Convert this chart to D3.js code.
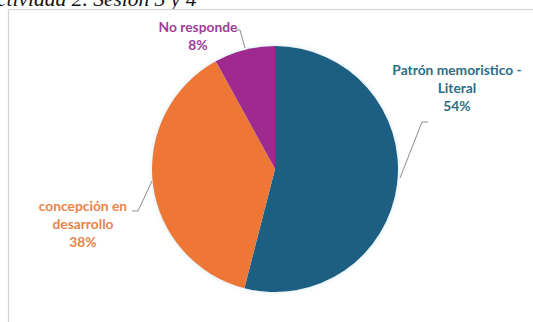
<!DOCTYPE html>
<html>
<head>
<meta charset="utf-8">
<script src="https://cdn.jsdelivr.net/npm/d3@7"></script>
<style>
  html, body { margin: 0; padding: 0; background: #fff; overflow: hidden; }
  svg { display: block; }
</style>
</head>
<body>
<svg id="chart" width="533" height="322"></svg>
<script>
// Pie data: one slice per answer category, clockwise from 12 o'clock
const categories = ["Patrón memoristico - Literal", "concepción en desarrollo", "No responde"];
const values = [54, 38, 8];
const labelLines = [["Patrón memoristico -", "Literal"], ["concepción en", "desarrollo"], ["No responde"]];
const percentLabels = ["54%", "38%", "8%"];
const sliceColors = ["#1b5f82", "#ee7734", "#9e2a90"];
const labelColors = ["#2b6d88", "#e9834a", "#a03c97"];

const svg = d3.select("#chart");

// Heading above the chart box
svg.append("text")
  .attr("x", -3).attr("y", 6)
  .attr("font-family", "Liberation Serif, Times New Roman, serif")
  .attr("font-style", "italic")
  .attr("font-size", 21.5)
  .attr("fill", "#111")
  .text("ctividad 2. Sesión 3 y 4");

// Chart area frame
svg.append("rect")
  .attr("x", 8.5).attr("y", 9.5)
  .attr("width", 540).attr("height", 330)
  .attr("fill", "#fff")
  .attr("stroke", "#d4d4d4").attr("stroke-width", 1.2);

// Soft shadow around the pie
const defs = svg.append("defs");
const f = defs.append("filter").attr("id", "soft").attr("x", "-10%").attr("y", "-10%").attr("width", "120%").attr("height", "120%");
f.append("feGaussianBlur").attr("in", "SourceAlpha").attr("stdDeviation", 2).attr("result", "b");
f.append("feFlood").attr("flood-color", "#9fd0e0").attr("flood-opacity", 0.5);
f.append("feComposite").attr("in2", "b").attr("operator", "in").attr("result", "s");
const m = f.append("feMerge");
m.append("feMergeNode").attr("in", "s");
m.append("feMergeNode").attr("in", "SourceGraphic");

const cx = 275, cy = 169, r = 123;
const pie = d3.pie().sort(null).value(d => d)(values);
const arc = d3.arc().innerRadius(0).outerRadius(r);

svg.append("g")
  .attr("transform", `translate(${cx},${cy})`)
  .attr("filter", "url(#soft)")
  .selectAll("path")
  .data(pie)
  .join("path")
  .attr("d", arc)
  .attr("fill", (d, i) => sliceColors[i]);

// Label anchor positions (center of text block) and leader lines
const labelPos = [[457, 70], [83, 206], [198, 27]];
const leaders = [
  [[428, 122], [422, 122], [400, 178]],
  [[132, 211], [138, 211], [152, 181]],
  [[236, 30], [240, 30], [245, 48]]
];

const line = d3.line();
svg.append("g").selectAll("path")
  .data(leaders)
  .join("path")
  .attr("d", d => line(d))
  .attr("fill", "none")
  .attr("stroke", "#8c8c8c")
  .attr("stroke-width", 1);

const lh = 18;
categories.forEach((c, i) => {
  const lines = labelLines[i].concat([percentLabels[i]]);
  const t = svg.append("text")
    .attr("text-anchor", "middle")
    .attr("font-family", "Lato, sans-serif")
    .attr("font-weight", "bold")
    .attr("font-size", 13.8)
    .attr("fill", labelColors[i]);
  lines.forEach((s, k) => {
    t.append("tspan")
      .attr("x", labelPos[i][0])
      .attr("y", labelPos[i][1] + 4.5 + k * lh)
      .text(s);
  });
});
</script>
</body>
</html>
